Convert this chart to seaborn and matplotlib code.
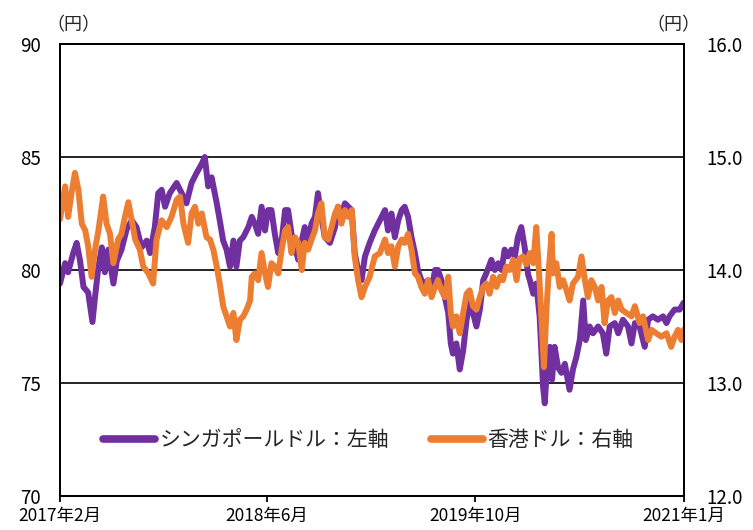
import matplotlib
matplotlib.use("Agg")
import matplotlib.pyplot as plt
from matplotlib.lines import Line2D
import seaborn as sns
import pandas as pd

# ---------------- data ----------------
sgd_dates = [
    "2017-02-01", "2017-02-13", "2017-02-20", "2017-03-04", "2017-03-12", "2017-03-20", "2017-03-28",
    "2017-04-08", "2017-04-18", "2017-04-24", "2017-05-02", "2017-05-10", "2017-05-17", "2017-05-25",
    "2017-06-06", "2017-06-14", "2017-06-25", "2017-07-07", "2017-07-19", "2017-07-30", "2017-08-11",
    "2017-08-23", "2017-08-31", "2017-09-11", "2017-09-19", "2017-09-27", "2017-10-05", "2017-10-16",
    "2017-11-01", "2017-11-13", "2017-11-24", "2017-12-06", "2017-12-18", "2017-12-30", "2018-01-06",
    "2018-01-14", "2018-01-22", "2018-02-03", "2018-02-10", "2018-02-18", "2018-02-26", "2018-03-06",
    "2018-03-14", "2018-03-21", "2018-03-29", "2018-04-06", "2018-04-18", "2018-04-26", "2018-05-03",
    "2018-05-11", "2018-05-19", "2018-05-27", "2018-06-03", "2018-06-11", "2018-06-19", "2018-06-27",
    "2018-07-05", "2018-07-13", "2018-07-20", "2018-07-28", "2018-08-05", "2018-08-13", "2018-08-21",
    "2018-08-28", "2018-09-05", "2018-09-13", "2018-09-21", "2018-09-28", "2018-10-06", "2018-10-14",
    "2018-10-26", "2018-11-07", "2018-11-14", "2018-11-22", "2018-11-30", "2018-12-08", "2018-12-16",
    "2018-12-23", "2018-12-31", "2019-01-08", "2019-01-16", "2019-01-27", "2019-02-08", "2019-02-20",
    "2019-03-04", "2019-03-11", "2019-03-19", "2019-03-27", "2019-04-04", "2019-04-12", "2019-04-19",
    "2019-04-27", "2019-05-05", "2019-05-13", "2019-05-20", "2019-05-28", "2019-06-05", "2019-06-13",
    "2019-06-21", "2019-06-29", "2019-07-06", "2019-07-14", "2019-07-22", "2019-07-30", "2019-08-05",
    "2019-08-10", "2019-08-18", "2019-08-26", "2019-09-03", "2019-09-11", "2019-09-18", "2019-09-26",
    "2019-10-04", "2019-10-12", "2019-10-20", "2019-10-27", "2019-11-08", "2019-11-16", "2019-11-24",
    "2019-12-02", "2019-12-09", "2019-12-17", "2019-12-25", "2020-01-02", "2020-01-09", "2020-01-17",
    "2020-01-25", "2020-02-02", "2020-02-06", "2020-02-14", "2020-02-21", "2020-02-29", "2020-03-08",
    "2020-03-12", "2020-03-17", "2020-03-24", "2020-03-29", "2020-04-04", "2020-04-12", "2020-04-20",
    "2020-04-28", "2020-05-09", "2020-05-17", "2020-05-25", "2020-06-02", "2020-06-10", "2020-06-16",
    "2020-06-25", "2020-07-03", "2020-07-15", "2020-07-26", "2020-08-03", "2020-08-11", "2020-08-23",
    "2020-08-31", "2020-09-11", "2020-09-23", "2020-10-01", "2020-10-09", "2020-10-20", "2020-11-01",
    "2020-11-09", "2020-11-20", "2020-12-02", "2020-12-14", "2020-12-22", "2020-12-29", "2021-01-10",
    "2021-01-22", "2021-01-31",
]
sgd_values = [
    79.4, 80.3, 79.9, 80.75, 81.2, 80.4, 79.25,
    79.0, 77.7, 78.8, 80.15, 81.0, 79.9, 80.9,
    79.4, 80.4, 80.9, 81.8, 82.2, 81.9, 81.0,
    81.3, 80.75, 81.9, 83.4, 83.55, 82.8, 83.4,
    83.85, 83.4, 82.95, 83.85, 84.3, 84.7, 85.0,
    83.7, 84.1, 82.95, 82.2, 81.3, 80.9, 80.15,
    81.3, 80.15, 81.3, 81.45, 81.9, 82.35, 82.05,
    81.6, 82.8, 81.75, 82.65, 82.65, 81.6, 80.75,
    81.3, 82.65, 82.65, 81.6, 81.0, 80.45, 81.3,
    81.9, 81.3, 82.05, 82.35, 83.4, 82.35, 81.45,
    81.2, 81.9, 82.8, 82.35, 82.95, 82.8, 82.65,
    80.75, 80.0, 79.55, 80.6, 81.2, 81.75, 82.2,
    82.65, 81.75, 82.5, 81.45, 82.2, 82.65, 82.8,
    82.35, 81.45, 80.75, 80.0, 79.55, 79.4, 79.55,
    79.1, 80.0, 80.0, 79.55, 78.8, 78.1, 76.75,
    76.3, 76.75, 75.6, 76.45, 77.8, 78.55, 78.1,
    77.5, 78.25, 79.55, 79.85, 80.45, 80.0, 80.3,
    80.0, 80.9, 80.6, 80.9, 80.6, 81.45, 81.9,
    81.0, 79.8, 79.55, 78.95, 79.4, 77.95, 74.85,
    74.1, 75.6, 76.6, 75.15, 76.6, 75.7, 75.45,
    75.85, 74.7, 75.6, 76.15, 76.9, 78.65, 76.9,
    77.5, 77.2, 77.5, 77.2, 76.3, 77.5, 77.65,
    77.2, 77.8, 77.5, 76.75, 77.65, 77.5, 76.6,
    77.8, 77.95, 77.8, 77.95, 77.65, 77.95, 78.25,
    78.25, 78.55,
]

hkd_dates = [
    "2017-02-01", "2017-02-13", "2017-02-20", "2017-02-28", "2017-03-08", "2017-03-16", "2017-03-24",
    "2017-04-01", "2017-04-08", "2017-04-16", "2017-04-24", "2017-05-02", "2017-05-13", "2017-05-21",
    "2017-05-29", "2017-06-06", "2017-06-17", "2017-06-25", "2017-07-03", "2017-07-11", "2017-07-19",
    "2017-07-27", "2017-08-07", "2017-08-15", "2017-08-27", "2017-09-07", "2017-09-15", "2017-09-27",
    "2017-10-09", "2017-10-20", "2017-11-01", "2017-11-09", "2017-11-17", "2017-11-28", "2017-12-06",
    "2017-12-14", "2017-12-22", "2017-12-30", "2018-01-10", "2018-01-18", "2018-01-26", "2018-02-03",
    "2018-02-10", "2018-02-18", "2018-02-26", "2018-03-06", "2018-03-14", "2018-03-21", "2018-03-29",
    "2018-04-06", "2018-04-14", "2018-04-22", "2018-04-26", "2018-05-03", "2018-05-11", "2018-05-19",
    "2018-05-27", "2018-06-03", "2018-06-11", "2018-06-19", "2018-06-27", "2018-07-05", "2018-07-13",
    "2018-07-20", "2018-07-28", "2018-08-05", "2018-08-13", "2018-08-21", "2018-08-28", "2018-09-05",
    "2018-09-13", "2018-09-21", "2018-09-28", "2018-10-06", "2018-10-14", "2018-10-22", "2018-10-30",
    "2018-11-07", "2018-11-14", "2018-11-22", "2018-11-30", "2018-12-08", "2018-12-16", "2018-12-23",
    "2018-12-31", "2019-01-08", "2019-01-16", "2019-01-27", "2019-02-08", "2019-02-20", "2019-03-04",
    "2019-03-11", "2019-03-19", "2019-03-27", "2019-04-04", "2019-04-12", "2019-04-19", "2019-04-27",
    "2019-05-05", "2019-05-13", "2019-05-20", "2019-05-28", "2019-06-05", "2019-06-13", "2019-06-21",
    "2019-06-29", "2019-07-06", "2019-07-14", "2019-07-22", "2019-07-30", "2019-08-05", "2019-08-10",
    "2019-08-18", "2019-08-26", "2019-09-03", "2019-09-11", "2019-09-18", "2019-09-26", "2019-10-04",
    "2019-10-12", "2019-10-20", "2019-10-27", "2019-11-04", "2019-11-12", "2019-11-20", "2019-11-28",
    "2019-12-05", "2019-12-13", "2019-12-21", "2019-12-29", "2020-01-06", "2020-01-13", "2020-01-21",
    "2020-01-29", "2020-02-06", "2020-02-14", "2020-02-21", "2020-02-29", "2020-03-06", "2020-03-10",
    "2020-03-16", "2020-03-22", "2020-03-28", "2020-03-31", "2020-04-08", "2020-04-16", "2020-04-24",
    "2020-05-02", "2020-05-09", "2020-05-17", "2020-05-29", "2020-06-06", "2020-06-14", "2020-06-21",
    "2020-06-29", "2020-07-07", "2020-07-15", "2020-07-23", "2020-07-30", "2020-08-07", "2020-08-15",
    "2020-08-23", "2020-08-31", "2020-09-08", "2020-09-19", "2020-10-01", "2020-10-09", "2020-10-20",
    "2020-10-28", "2020-11-09", "2020-11-17", "2020-11-28", "2020-12-10", "2020-12-22", "2021-01-02",
    "2021-01-10", "2021-01-18", "2021-01-26", "2021-01-31",
]
hkd_values = [
    14.45, 14.74, 14.47, 14.68, 14.86, 14.71, 14.41,
    14.35, 14.21, 13.94, 14.18, 14.35, 14.65, 14.41,
    14.32, 14.06, 14.27, 14.32, 14.47, 14.60, 14.44,
    14.27, 14.18, 14.03, 13.97, 13.88, 14.27, 14.44,
    14.38, 14.47, 14.62, 14.65, 14.41, 14.24, 14.50,
    14.56, 14.41, 14.50, 14.29, 14.27, 14.18, 14.03,
    13.88, 13.68, 13.59, 13.50, 13.62, 13.38, 13.56,
    13.59, 13.65, 13.73, 13.94, 13.97, 13.91, 14.15,
    13.97, 13.85, 14.06, 14.03, 13.97, 14.18, 14.35,
    14.38, 14.15, 14.29, 14.24, 14.00, 14.24, 14.18,
    14.27, 14.35, 14.50, 14.59, 14.29, 14.27, 14.38,
    14.50, 14.56, 14.41, 14.53, 14.47, 14.53, 14.12,
    13.91, 13.76, 13.85, 13.94, 14.12, 14.15, 14.27,
    14.15, 14.21, 14.03, 14.21, 14.27, 14.24, 14.32,
    14.18, 13.97, 13.94, 13.85, 13.79, 13.91, 13.76,
    13.85, 13.91, 13.82, 13.76, 13.94, 13.62, 13.50,
    13.59, 13.44, 13.62, 13.79, 13.82, 13.68, 13.65,
    13.76, 13.85, 13.88, 13.79, 13.94, 13.85, 13.94,
    13.91, 14.03, 14.00, 14.09, 13.91, 14.10, 14.12,
    14.05, 14.15, 14.06, 14.38, 13.88, 13.44, 13.14,
    13.65, 14.03, 14.32, 13.97, 14.06, 13.85, 13.91,
    13.82, 13.73, 13.88, 13.94, 14.12, 13.91, 13.76,
    13.91, 13.85, 13.73, 13.85, 13.53, 13.73, 13.76,
    13.62, 13.73, 13.65, 13.62, 13.59, 13.68, 13.53,
    13.59, 13.38, 13.47, 13.44, 13.41, 13.44, 13.32,
    13.41, 13.47, 13.38, 13.47,
]

x_tick_dates = ["2017-02-01", "2018-06-01", "2019-10-01", "2021-02-01"]
x_tick_labels = ["2017年2月", "2018年6月", "2019年10月", "2021年1月"]
left_ticks = [70, 75, 80, 85, 90]
right_ticks = [12.0, 13.0, 14.0, 15.0, 16.0]
sgd_label = "シンガポールドル：左軸"
hkd_label = "香港ドル：右軸"
unit_label = "（円）"

# ---------------- styling ----------------
sns.set_theme(style="white")
plt.rcParams["font.family"] = ["Noto Sans CJK JP", "DejaVu Sans"]

PURPLE = "#7030A0"
ORANGE = "#ED7D31"

sgd = pd.DataFrame({"date": pd.to_datetime(sgd_dates), "value": sgd_values})
hkd = pd.DataFrame({"date": pd.to_datetime(hkd_dates), "value": hkd_values})

fig = plt.figure(figsize=(7.53, 5.30), dpi=100)
ax = fig.add_axes([60 / 753, 1 - 496 / 530, 624 / 753, 452 / 530])
ax2 = ax.twinx()

sns.lineplot(data=sgd, x="date", y="value", ax=ax, color=PURPLE, linewidth=4.3,
             solid_joinstyle="round", solid_capstyle="round")
sns.lineplot(data=hkd, x="date", y="value", ax=ax2, color=ORANGE, linewidth=4.3,
             solid_joinstyle="round", solid_capstyle="round")

ax.set_ylim(70, 90)
ax2.set_ylim(12, 16)
ax.set_yticks(left_ticks)
ax.set_yticklabels([str(t) for t in left_ticks])
ax2.set_yticks(right_ticks)
ax2.set_yticklabels([f"{t:.1f}" for t in right_ticks])

xt = pd.to_datetime(x_tick_dates)
ax.set_xlim(xt[0], xt[-1])
ax.set_xticks(xt)
ax.set_xticklabels(x_tick_labels)

for a in (ax, ax2):
    a.set_xlabel("")
    a.set_ylabel("")
    for s in a.spines.values():
        s.set_color("black")
        s.set_linewidth(1.3)
        s.set_visible(True)

ax.yaxis.grid(True, color="black", linewidth=1.2)
ax.xaxis.grid(False)
ax2.grid(False)
ax.set_axisbelow(True)

ax.tick_params(axis="y", length=0, labelsize=13.5, pad=14, colors="black")
ax2.tick_params(axis="y", length=0, labelsize=13.5, pad=16, colors="black")
ax.tick_params(axis="x", bottom=True, length=4, width=1.3, direction="out",
               labelsize=12.5, pad=4, colors="black")

fig.text(73 / 753, 1 - 25 / 530, unit_label, fontsize=13, ha="center", va="center")
fig.text(673 / 753, 1 - 25 / 530, unit_label, fontsize=13, ha="center", va="center")

handles = [Line2D([0], [0], color=PURPLE, linewidth=5.5, solid_capstyle="round"),
           Line2D([0], [0], color=ORANGE, linewidth=5.5, solid_capstyle="round")]
leg = ax2.legend(handles, [sgd_label, hkd_label], loc="center",
                 bbox_to_anchor=(0.494, 0.124), ncol=2, frameon=False,
                 fontsize=15, handlelength=2.5, handletextpad=0.2, columnspacing=2.0)

fig.savefig("out.png", dpi=100, facecolor="white")
